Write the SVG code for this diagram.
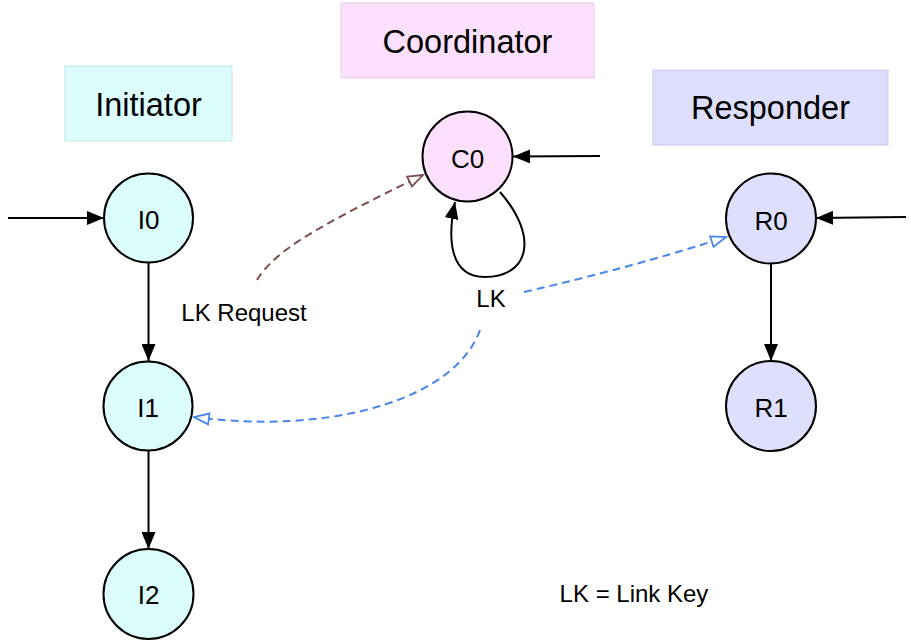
<svg xmlns="http://www.w3.org/2000/svg" width="911" height="642" viewBox="0 0 911 642">
  <defs>
    <style>
      text { font-family: "Liberation Sans", Arial, sans-serif; fill: #000; text-anchor: middle; }
      .title { font-size: 32.5px; }
      .lbl { font-size: 24px; }
      .state { font-size: 26px; }
      .node { stroke: #000; stroke-width: 2; }
      .ini { fill: #dcfdfd; }
      .coo { fill: #fde0fd; }
      .res { fill: #dedffc; }
      .edge { fill: none; stroke: #000; stroke-width: 2; }
      .dash-brown { fill: none; stroke: #7d4d4d; stroke-width: 2; stroke-dasharray: 8 5; }
      .dash-blue { fill: none; stroke: #4a86e8; stroke-width: 2; stroke-dasharray: 8 5; }
    </style>
    <marker id="arrow" markerUnits="userSpaceOnUse" markerWidth="18" markerHeight="14" refX="17" refY="7" orient="auto">
      <path d="M0,0 L17,7 L0,14 Z" fill="#000"/>
    </marker>
    <marker id="open-brown" markerUnits="userSpaceOnUse" markerWidth="18" markerHeight="14" refX="16" refY="7" orient="auto">
      <path d="M1,1.5 L16,7 L1,12.5 Z" fill="#fff" stroke="#7d4d4d" stroke-width="1.8"/>
    </marker>
    <marker id="open-blue" markerUnits="userSpaceOnUse" markerWidth="18" markerHeight="14" refX="16" refY="7" orient="auto">
      <path d="M1,1.5 L16,7 L1,12.5 Z" fill="#fff" stroke="#4a86e8" stroke-width="1.8"/>
    </marker>
  </defs>

  <rect width="911" height="642" fill="#fff"/>

  <!-- swimlane headers -->
  <g id="lane-initiator">
    <rect x="65" y="66" width="167" height="75" fill="#dcfdfd" stroke="#c6e6e6" stroke-width="1"/>
    <text class="title" x="148.5" y="116">Initiator</text>
  </g>
  <g id="lane-coordinator">
    <rect x="341" y="3" width="253" height="75" fill="#fde0fd" stroke="#e6cbe6" stroke-width="1"/>
    <text class="title" x="467.5" y="53">Coordinator</text>
  </g>
  <g id="lane-responder">
    <rect x="653" y="70" width="235" height="75" fill="#dedffc" stroke="#c9cae6" stroke-width="1"/>
    <text class="title" x="770.5" y="119">Responder</text>
  </g>

  <!-- states -->
  <g id="I0">
    <circle class="node ini" cx="148.5" cy="218" r="44.5"/>
    <text class="state" x="148.5" y="229">I0</text>
  </g>
  <g id="I1">
    <circle class="node ini" cx="148" cy="406" r="44.5"/>
    <text class="state" x="148" y="417">I1</text>
  </g>
  <g id="I2">
    <circle class="node ini" cx="148.5" cy="594" r="45"/>
    <text class="state" x="148.5" y="604">I2</text>
  </g>
  <g id="C0">
    <circle class="node coo" cx="467.5" cy="156.5" r="45"/>
    <text class="state" x="467.5" y="167.5">C0</text>
  </g>
  <g id="R0">
    <circle class="node res" cx="771" cy="218.5" r="45"/>
    <text class="state" x="771" y="229.5">R0</text>
  </g>
  <g id="R1">
    <circle class="node res" cx="771" cy="406" r="45"/>
    <text class="state" x="771" y="417">R1</text>
  </g>

  <!-- transitions -->
  <g id="connectors">
    <line class="edge" x1="8" y1="218" x2="104" y2="218" marker-end="url(#arrow)"/>
    <line class="edge" x1="600" y1="156" x2="513" y2="156.5" marker-end="url(#arrow)"/>
    <line class="edge" x1="906" y1="217" x2="816" y2="218" marker-end="url(#arrow)"/>
    <line class="edge" x1="148.5" y1="263" x2="148.5" y2="361" marker-end="url(#arrow)"/>
    <line class="edge" x1="148.5" y1="451" x2="148.5" y2="549" marker-end="url(#arrow)"/>
    <line class="edge" x1="771" y1="264" x2="771" y2="361" marker-end="url(#arrow)"/>
    <path class="edge" d="M500,192 C540,238 528,277 485,277 C450,277 447,240 455,202" marker-end="url(#arrow)"/>
    <path class="dash-brown" d="M257,280 C275,250 320,225 423,175" marker-end="url(#open-brown)"/>
    <path class="dash-blue" d="M524,292 Q630,268 726,237" marker-end="url(#open-blue)"/>
    <path class="dash-blue" d="M480,330 C455,400 330,435 194,417" marker-end="url(#open-blue)"/>
  </g>

  <!-- labels -->
  <text class="lbl" x="244" y="321">LK Request</text>
  <text class="lbl" x="491" y="307">LK</text>
  <text class="lbl" x="634" y="602">LK = Link Key</text>
</svg>
